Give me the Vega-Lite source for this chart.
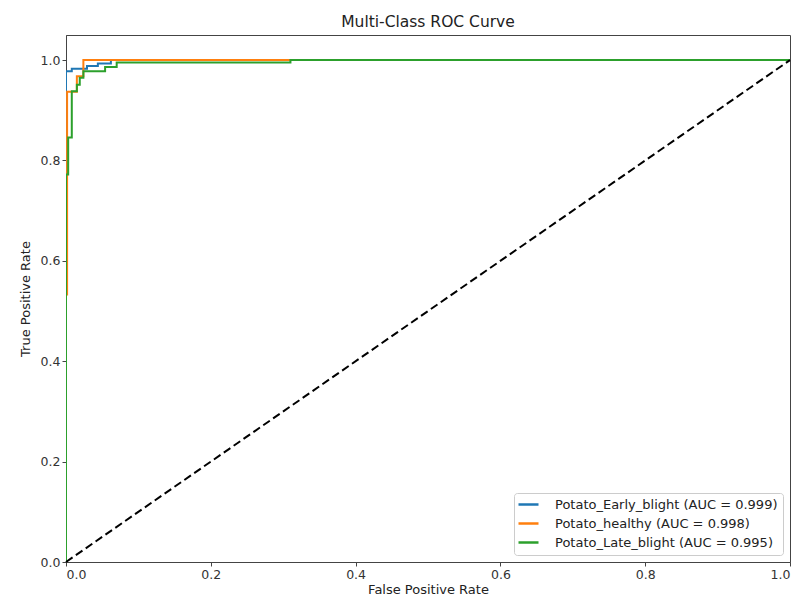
{
  "$schema": "https://vega.github.io/schema/vega-lite/v6.json",
  "width": 724,
  "height": 527,
  "autosize": {"type": "none"},
  "padding": {"left": 66, "top": 35, "right": 11, "bottom": 41},
  "background": "white",
  "title": {"text": "Multi-Class ROC Curve", "font": "DejaVu Sans", "fontSize": 15.5, "fontWeight": "normal", "color": "#222", "offset": 5},
  "config": {
    "view": {"stroke": "#444", "strokeWidth": 1},
    "axis": {"grid": false, "labelFont": "DejaVu Sans", "labelFontSize": 12.5, "labelColor": "#333", "titleFont": "DejaVu Sans", "titleFontSize": 13, "titleFontWeight": "normal", "titleColor": "#222", "tickColor": "#444", "domainColor": "#444", "tickSize": 4, "labelPadding": 2}
  },
  "datasets": {
    "roc": [
      {"label": "Potato_Early_blight (AUC = 0.999)", "i": 0, "fpr": 0, "tpr": 0},
      {"label": "Potato_Early_blight (AUC = 0.999)", "i": 1, "fpr": 0, "tpr": 0.978},
      {"label": "Potato_Early_blight (AUC = 0.999)", "i": 2, "fpr": 0.008, "tpr": 0.978},
      {"label": "Potato_Early_blight (AUC = 0.999)", "i": 3, "fpr": 0.008, "tpr": 0.983},
      {"label": "Potato_Early_blight (AUC = 0.999)", "i": 4, "fpr": 0.029, "tpr": 0.983},
      {"label": "Potato_Early_blight (AUC = 0.999)", "i": 5, "fpr": 0.029, "tpr": 0.988},
      {"label": "Potato_Early_blight (AUC = 0.999)", "i": 6, "fpr": 0.044, "tpr": 0.988},
      {"label": "Potato_Early_blight (AUC = 0.999)", "i": 7, "fpr": 0.044, "tpr": 0.993},
      {"label": "Potato_Early_blight (AUC = 0.999)", "i": 8, "fpr": 0.062, "tpr": 0.993},
      {"label": "Potato_Early_blight (AUC = 0.999)", "i": 9, "fpr": 0.062, "tpr": 1.0},
      {"label": "Potato_Early_blight (AUC = 0.999)", "i": 10, "fpr": 1.0, "tpr": 1.0},
      {"label": "Potato_healthy (AUC = 0.998)", "i": 0, "fpr": 0, "tpr": 0},
      {"label": "Potato_healthy (AUC = 0.998)", "i": 1, "fpr": 0, "tpr": 0.533},
      {"label": "Potato_healthy (AUC = 0.998)", "i": 2, "fpr": 0.0015, "tpr": 0.533},
      {"label": "Potato_healthy (AUC = 0.998)", "i": 3, "fpr": 0.0015, "tpr": 0.937},
      {"label": "Potato_healthy (AUC = 0.998)", "i": 4, "fpr": 0.015, "tpr": 0.937},
      {"label": "Potato_healthy (AUC = 0.998)", "i": 5, "fpr": 0.015, "tpr": 0.968},
      {"label": "Potato_healthy (AUC = 0.998)", "i": 6, "fpr": 0.024, "tpr": 0.968},
      {"label": "Potato_healthy (AUC = 0.998)", "i": 7, "fpr": 0.024, "tpr": 1.0},
      {"label": "Potato_healthy (AUC = 0.998)", "i": 8, "fpr": 1.0, "tpr": 1.0},
      {"label": "Potato_Late_blight (AUC = 0.995)", "i": 0, "fpr": 0, "tpr": 0},
      {"label": "Potato_Late_blight (AUC = 0.995)", "i": 1, "fpr": 0, "tpr": 0.772},
      {"label": "Potato_Late_blight (AUC = 0.995)", "i": 2, "fpr": 0.003, "tpr": 0.772},
      {"label": "Potato_Late_blight (AUC = 0.995)", "i": 3, "fpr": 0.003, "tpr": 0.846},
      {"label": "Potato_Late_blight (AUC = 0.995)", "i": 4, "fpr": 0.008, "tpr": 0.846},
      {"label": "Potato_Late_blight (AUC = 0.995)", "i": 5, "fpr": 0.008, "tpr": 0.938},
      {"label": "Potato_Late_blight (AUC = 0.995)", "i": 6, "fpr": 0.015, "tpr": 0.938},
      {"label": "Potato_Late_blight (AUC = 0.995)", "i": 7, "fpr": 0.015, "tpr": 0.951},
      {"label": "Potato_Late_blight (AUC = 0.995)", "i": 8, "fpr": 0.019, "tpr": 0.951},
      {"label": "Potato_Late_blight (AUC = 0.995)", "i": 9, "fpr": 0.019, "tpr": 0.965},
      {"label": "Potato_Late_blight (AUC = 0.995)", "i": 10, "fpr": 0.024, "tpr": 0.965},
      {"label": "Potato_Late_blight (AUC = 0.995)", "i": 11, "fpr": 0.024, "tpr": 0.978},
      {"label": "Potato_Late_blight (AUC = 0.995)", "i": 12, "fpr": 0.054, "tpr": 0.978},
      {"label": "Potato_Late_blight (AUC = 0.995)", "i": 13, "fpr": 0.054, "tpr": 0.986},
      {"label": "Potato_Late_blight (AUC = 0.995)", "i": 14, "fpr": 0.07, "tpr": 0.986},
      {"label": "Potato_Late_blight (AUC = 0.995)", "i": 15, "fpr": 0.07, "tpr": 0.995},
      {"label": "Potato_Late_blight (AUC = 0.995)", "i": 16, "fpr": 0.31, "tpr": 0.995},
      {"label": "Potato_Late_blight (AUC = 0.995)", "i": 17, "fpr": 0.31, "tpr": 1.0},
      {"label": "Potato_Late_blight (AUC = 0.995)", "i": 18, "fpr": 1.0, "tpr": 1.0}
    ],
    "diag": [
      {"fpr": 0, "tpr": 0},
      {"fpr": 1, "tpr": 1}
    ]
  },
  "layer": [
    {
      "data": {"name": "roc"},
      "mark": {"type": "line", "strokeWidth": 2, "interpolate": "linear", "clip": true},
      "encoding": {
        "x": {"field": "fpr", "type": "quantitative", "scale": {"domain": [0, 1], "nice": false, "zero": false},
          "axis": {"title": "False Positive Rate", "values": [0, 0.2, 0.4, 0.6, 0.8, 1.0], "format": ".1f", "titlePadding": 3}},
        "y": {"field": "tpr", "type": "quantitative", "scale": {"domain": [0, 1.05], "nice": false, "zero": false},
          "axis": {"title": "True Positive Rate", "values": [0, 0.2, 0.4, 0.6, 0.8, 1.0], "format": ".1f", "titlePadding": 8}},
        "color": {"field": "label", "type": "nominal",
          "scale": {"domain": ["Potato_Early_blight (AUC = 0.999)", "Potato_healthy (AUC = 0.998)", "Potato_Late_blight (AUC = 0.995)"], "range": ["#1f77b4", "#ff7f0e", "#2ca02c"]},
          "legend": {"title": null, "orient": "bottom-right", "offset": 7, "strokeColor": "#cccccc", "cornerRadius": 3, "fillColor": "white", "padding": 5,
            "symbolType": "M-1.4,0H2.6", "symbolStrokeWidth": 2.5, "symbolSize": 100, "labelFont": "DejaVu Sans", "labelFontSize": 13, "labelColor": "#222", "labelLimit": 0, "rowPadding": 5, "labelOffset": 23}},
        "order": {"field": "i", "type": "quantitative"}
      }
    },
    {
      "data": {"name": "diag"},
      "mark": {"type": "line", "color": "black", "strokeWidth": 2, "strokeDash": [8, 4]},
      "encoding": {
        "x": {"field": "fpr", "type": "quantitative"},
        "y": {"field": "tpr", "type": "quantitative"}
      }
    }
  ]
}
